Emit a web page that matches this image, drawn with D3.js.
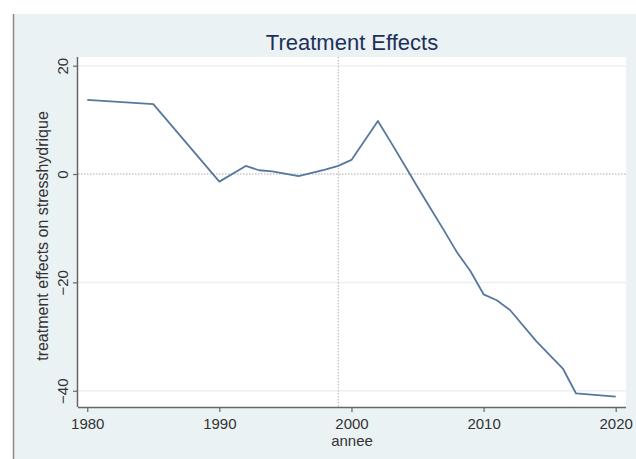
<!DOCTYPE html>
<html>
<head>
<meta charset="utf-8">
<script src="https://cdn.jsdelivr.net/npm/d3@7"></script>
<style>
  html, body { margin: 0; padding: 0; background: #ffffff; }
  svg { display: block; }
  text { font-family: "Liberation Sans", Arial, sans-serif; }
</style>
</head>
<body>
<div id="chart"></div>
<script>
const years = [1980, 1985, 1990, 1992, 1993, 1994, 1996, 1998, 1999, 2000, 2002, 2003, 2004, 2005, 2006, 2007, 2008, 2009, 2010, 2011, 2012, 2014, 2016, 2017, 2020];
const effects = [13.7, 12.9, -1.4, 1.5, 0.7, 0.5, -0.4, 0.8, 1.5, 2.6, 9.8, 5.8, 1.7, -2.4, -6.4, -10.4, -14.5, -17.9, -22.2, -23.3, -25.1, -30.9, -35.9, -40.5, -41.1];
const xTicks = [1980, 1990, 2000, 2010, 2020];
const yTicks = [20, 0, -20, -40];
const treatmentYear = [1999];
const titleText = "Treatment Effects";
const xLabel = "annee";
const yLabel = "treatment effects on stresshydrique";

const W = 636, H = 459;
const plot = { left: 78, right: 626, top: 57, bottom: 407 };

const svg = d3.select("#chart").append("svg").attr("width", W).attr("height", H);

// outer panel
svg.append("rect").attr("x", 0).attr("y", 0).attr("width", W).attr("height", H).attr("fill", "#ffffff");
svg.append("rect").attr("x", 13).attr("y", 14).attr("width", W - 13).attr("height", H - 14).attr("fill", "#eaf2f3");
svg.append("line").attr("x1", 13.5).attr("x2", 13.5).attr("y1", 14).attr("y2", H)
  .attr("stroke", "#8a8a8a").attr("stroke-width", 1.5);

// plot region
svg.append("rect").attr("x", plot.left).attr("y", plot.top)
  .attr("width", plot.right - plot.left).attr("height", plot.bottom - plot.top).attr("fill", "#ffffff");

const x = d3.scaleLinear().domain([1979.3, 2020.78]).range([plot.left, plot.right]);
const y = d3.scaleLinear().domain([-43, 21.6]).range([plot.bottom, plot.top]);

// grid lines
svg.append("g").selectAll("line").data(yTicks.filter(d => d !== 0)).join("line")
  .attr("x1", plot.left).attr("x2", plot.right)
  .attr("y1", d => y(d)).attr("y2", d => y(d))
  .attr("stroke", "#eaf2f3").attr("stroke-width", 1.5);

// zero reference line (dotted)
svg.append("line").attr("x1", plot.left).attr("x2", plot.right)
  .attr("y1", y(0)).attr("y2", y(0))
  .attr("stroke", "#a8a8a8").attr("stroke-width", 1).attr("stroke-dasharray", "1.5,1.5");

// vertical treatment line (dotted)
svg.append("g").selectAll("line").data(treatmentYear).join("line")
  .attr("x1", d => x(d)).attr("x2", d => x(d))
  .attr("y1", plot.top).attr("y2", plot.bottom)
  .attr("stroke", "#b4b4b4").attr("stroke-width", 1).attr("stroke-dasharray", "1.5,1.5");

// data line
const data = years.map((yr, i) => ({ yr, v: effects[i] }));
svg.append("path").datum(data)
  .attr("fill", "none").attr("stroke", "#56789e").attr("stroke-width", 1.8)
  .attr("stroke-linejoin", "round")
  .attr("d", d3.line().x(d => x(d.yr)).y(d => y(d.v)));

// axes
const xAxis = d3.axisBottom(x).tickValues(xTicks).tickFormat(d3.format("d")).tickSize(5).tickPadding(6);
const gx = svg.append("g").attr("transform", `translate(0,${plot.bottom})`).call(xAxis);
gx.select(".domain").attr("stroke", "#666").attr("stroke-width", 1.5)
  .attr("d", `M${plot.left},0.5H${plot.right}`);
gx.selectAll(".tick line").attr("stroke", "#666").attr("stroke-width", 1.2);
gx.selectAll(".tick text").attr("fill", "#333").style("font-size", "15px")
  .style("font-family", "'Liberation Sans', Arial, sans-serif");

const yAxis = d3.axisLeft(y).tickValues(yTicks).tickFormat(d3.format("d")).tickSize(5).tickPadding(6);
const gy = svg.append("g").attr("transform", `translate(${plot.left},0)`).call(yAxis);
gy.select(".domain").attr("stroke", "#666").attr("stroke-width", 1.5)
  .attr("d", `M-0.5,${plot.top}V${plot.bottom}`);
gy.selectAll(".tick line").attr("stroke", "#666").attr("stroke-width", 1.2);
gy.selectAll(".tick text")
  .attr("fill", "#333").style("font-size", "15px")
  .style("font-family", "'Liberation Sans', Arial, sans-serif")
  .attr("text-anchor", "middle").attr("dy", null).attr("x", null)
  .attr("transform", "translate(-10,0) rotate(-90)");

// title
svg.append("text").attr("x", (plot.left + plot.right) / 2).attr("y", 50)
  .attr("text-anchor", "middle").attr("fill", "#1e2f5c").style("font-size", "22px")
  .text(titleText);

// x label
svg.append("text").attr("x", (plot.left + plot.right) / 2).attr("y", 446)
  .attr("text-anchor", "middle").attr("fill", "#333").style("font-size", "15px")
  .text(xLabel);

// y label
svg.append("text").attr("transform", `translate(48,${(plot.top + plot.bottom) / 2 + 4}) rotate(-90)`)
  .attr("text-anchor", "middle").attr("fill", "#333").style("font-size", "16px")
  .text(yLabel);
</script>
</body>
</html>
